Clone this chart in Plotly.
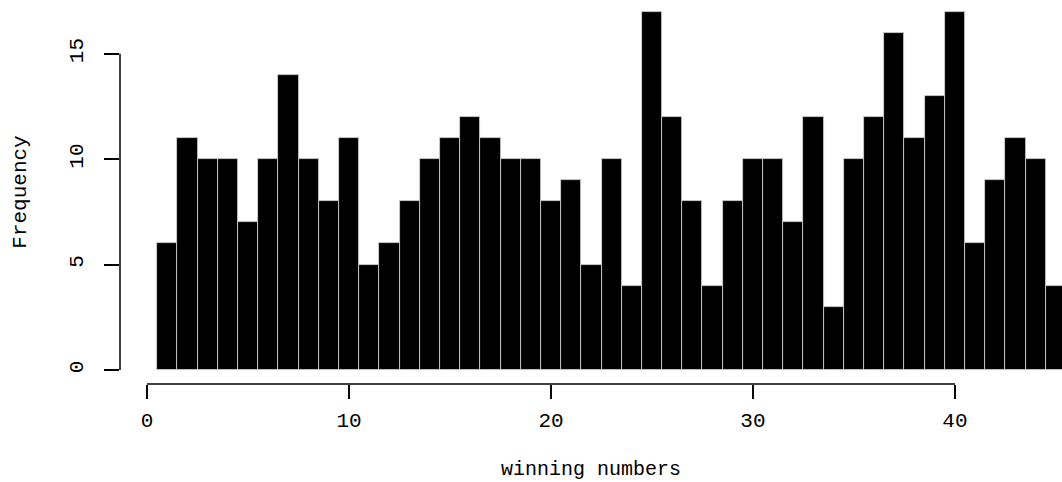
import plotly.graph_objects as go

numbers = list(range(1, 46))
frequency = [6, 11, 10, 10, 7, 10, 14, 10, 8, 11,
             5, 6, 8, 10, 11, 12, 11, 10, 10, 8,
             9, 5, 10, 4, 17, 12, 8, 4, 8, 10,
             10, 7, 12, 3, 10, 12, 16, 11, 13, 17,
             6, 9, 11, 10, 4]
x_ticks = [0, 10, 20, 30, 40]
y_ticks = [0, 5, 10, 15]

FONT = "Liberation Mono, Courier New, monospace"

fig = go.Figure(go.Bar(
    x=numbers, y=frequency, width=1,
    marker=dict(color="black", line=dict(color="#d8d8d8", width=0.8)),
))

fig.update_layout(
    width=1062, height=482,
    margin=dict(l=120, r=0, t=0, b=98),
    paper_bgcolor="white", plot_bgcolor="white",
    showlegend=False,
    font=dict(family=FONT, color="black", size=21),
    bargap=0,
    xaxis=dict(
        range=[-1.34, 45.3], tickvals=x_ticks, ticks="outside", ticklen=14,
        tickwidth=1.5, tickcolor="black", showgrid=False, zeroline=False,
        showline=False, tickfont=dict(size=21, family=FONT),
        ticklabelstandoff=3,
        title=dict(text="winning numbers", font=dict(size=20, family=FONT), standoff=28),
    ),
    yaxis=dict(
        range=[-0.665, 17.55], tickvals=y_ticks, ticks="outside", ticklen=15,
        tickwidth=1.5, tickcolor="black", showgrid=False, zeroline=False,
        showline=False, tickangle=-90, tickfont=dict(size=21, family=FONT),
        ticklabelstandoff=13,
        title=dict(text="Frequency", font=dict(size=21, family=FONT), standoff=33),
    ),
    shapes=[
        dict(type="line", xref="x", yref="paper", x0=0, x1=40, y0=0, y1=0,
             line=dict(color="black", width=1.5)),
        dict(type="line", xref="paper", yref="y", x0=0, x1=0, y0=0, y1=15,
             line=dict(color="black", width=1.5)),
    ],
)

fig.write_html(
    "out.html",
    config={"displayModeBar": False},
    post_script="document.body.style.margin='0';document.body.style.overflow='hidden';",
)
